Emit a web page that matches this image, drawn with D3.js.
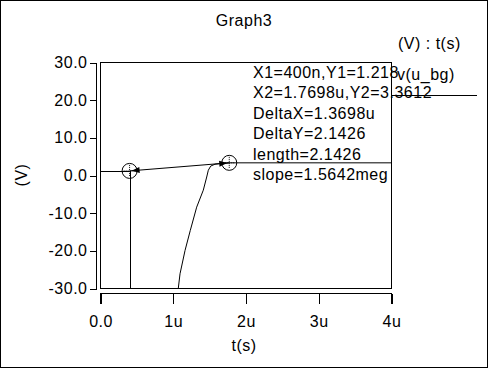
<!DOCTYPE html>
<html><head><meta charset="utf-8">
<script src="https://cdn.jsdelivr.net/npm/d3@7"></script>
<style>
html,body{margin:0;padding:0;background:#fff;}
svg{display:block;}
text{font-family:"Liberation Sans",Arial,sans-serif;font-size:16px;fill:#000;letter-spacing:0.5px;}
</style></head>
<body>
<script>
// ---- data ----
const title = "Graph3";
const seriesName = "v(u_bg)";
const axisCaption = "(V) : t(s)";
const xLabel = "t(s)";
const yLabel = "(V)";
const xTicks = [0, 1e-6, 2e-6, 3e-6, 4e-6];
const xTickLabels = ["0.0", "1u", "2u", "3u", "4u"];
const yTicks = [30, 20, 10, 0, -10, -20, -30];
const yTickLabels = ["30.0", "20.0", "10.0", "0.0", "-10.0", "-20.0", "-30.0"];
const traceT = [1.069e-6, 1.093e-6, 1.162e-6, 1.234e-6, 1.322e-6, 1.413e-6, 1.460e-6, 1.482e-6, 1.515e-6, 1.574e-6, 1.666e-6, 1.7698e-6, 4e-6];
const traceV = [-30, -26.1, -19.9, -14.6, -8.4, -3.9, -0.4, 1.4, 2.5, 3.0, 3.2, 3.3612, 3.3612];
const cursorX = [400e-9, 1.7698e-6];
const cursorY = [1.218, 3.3612];
const readout = ["X1=400n,Y1=1.218", "X2=1.7698u,Y2=3.3612", "DeltaX=1.3698u", "DeltaY=2.1426", "length=2.1426", "slope=1.5642meg"];

// ---- drawing ----
const W = 488, H = 368;
const svg = d3.select("body").append("svg").attr("width", W).attr("height", H);
svg.append("rect").attr("x", 0.5).attr("y", 0.5).attr("width", W - 1).attr("height", H - 1)
  .attr("fill", "#fff").attr("stroke", "#000").attr("shape-rendering", "crispEdges");

const x = d3.scaleLinear().domain([0, 4e-6]).range([100.5, 391.5]);
const y = d3.scaleLinear().domain([-30, 30]).range([288.5, 62.5]);

// plot frame
svg.append("rect").attr("x", x(0)).attr("y", y(30)).attr("width", x(4e-6) - x(0)).attr("height", y(-30) - y(30))
  .attr("fill", "none").attr("stroke", "#000").attr("shape-rendering", "crispEdges");

// y axis
const yAxis = d3.axisLeft(y).tickValues(yTicks).tickSize(7).tickPadding(2)
  .tickFormat((d, i) => yTickLabels[i]);
const gy = svg.append("g").attr("transform", "translate(96.5,0)").call(yAxis);
gy.selectAll("path.domain").attr("d", `M0,${y(30)}V${y(-30)}`);
// x axis
const xAxis = d3.axisBottom(x).tickValues(xTicks).tickSize(10).tickPadding(12)
  .tickFormat((d, i) => xTickLabels[i]);
const gx = svg.append("g").attr("transform", "translate(0,293.5)").call(xAxis);
gx.selectAll("path.domain").attr("d", `M${x(0)},10V0H${x(4e-6)}V10`);
[gx, gy].forEach(g => {
  g.selectAll("path,line").attr("stroke", "#000").attr("shape-rendering", "crispEdges");
  g.selectAll("text").attr("font-size", 16).attr("font-family", "Liberation Sans, Arial, sans-serif").attr("fill", "#000");
});

// title and labels
svg.append("text").attr("x", 244).attr("y", 26).attr("text-anchor", "middle").text(title);
svg.append("text").attr("x", 244).attr("y", 351).attr("text-anchor", "middle").text(xLabel);
svg.append("text").attr("transform", "translate(27,175) rotate(-90)").attr("text-anchor", "middle").text(yLabel);
svg.append("text").attr("x", 398).attr("y", 49).text(axisCaption);

// trace
const pts = traceT.map((t, i) => [t, traceV[i]]);
svg.append("path").datum(pts).attr("fill", "none").attr("stroke", "#000").attr("stroke-width", 1)
  .attr("d", d3.line().x(d => x(d[0])).y(d => y(d[1])));

// cursor 1 crosshair lines
const c1 = [x(cursorX[0]), y(cursorY[0])], c2 = [x(cursorX[1]), y(cursorY[1])];
svg.append("line").attr("x1", x(0)).attr("x2", c1[0]).attr("y1", Math.round(c1[1]) + 0.5).attr("y2", Math.round(c1[1]) + 0.5).attr("stroke", "#000");
svg.append("line").attr("x1", Math.round(c1[0]) + 0.5).attr("x2", Math.round(c1[0]) + 0.5).attr("y1", c1[1]).attr("y2", y(-30)).attr("stroke", "#000");

// connecting line with arrowheads
svg.append("line").attr("x1", c1[0]).attr("y1", c1[1]).attr("x2", c2[0]).attr("y2", c2[1]).attr("stroke", "#000");
function arrow(from, to, tipOffset) {
  const dx = to[0] - from[0], dy = to[1] - from[1], L = Math.hypot(dx, dy);
  const ux = dx / L, uy = dy / L;
  const tip = [to[0] - ux * tipOffset, to[1] - uy * tipOffset];
  const base = [tip[0] - ux * 8, tip[1] - uy * 8];
  const px = -uy * 3, py = ux * 3;
  svg.append("path").attr("d", `M${tip[0]},${tip[1]}L${base[0] + px},${base[1] + py}L${base[0] - px},${base[1] - py}Z`).attr("fill", "#000");
}
arrow(c2, c1, 2);
arrow(c1, c2, 2);

// cursor circles
[c1, c2].forEach(c => {
  svg.append("circle").attr("cx", c[0]).attr("cy", c[1]).attr("r", 7.5).attr("fill", "none").attr("stroke", "#000");
  svg.append("line").attr("x1", c[0] - 6).attr("x2", c[0] + 6).attr("y1", c[1]).attr("y2", c[1]).attr("stroke", "#000").attr("stroke-dasharray", "1,1");
  svg.append("line").attr("x1", c[0]).attr("x2", c[0]).attr("y1", c[1] - 6).attr("y2", c[1] + 6).attr("stroke", "#000").attr("stroke-dasharray", "1,1");
});

// readout text
svg.selectAll("text.readout").data(readout).enter().append("text").attr("class", "readout")
  .attr("x", 253).attr("y", (d, i) => 78 + i * 20.4).text(d => d);

// legend
svg.append("text").attr("x", 397).attr("y", 80).text(seriesName);
svg.append("line").attr("x1", 392).attr("x2", 477).attr("y1", 95.5).attr("y2", 95.5).attr("stroke", "#000").attr("shape-rendering", "crispEdges");
</script>
</body></html>
